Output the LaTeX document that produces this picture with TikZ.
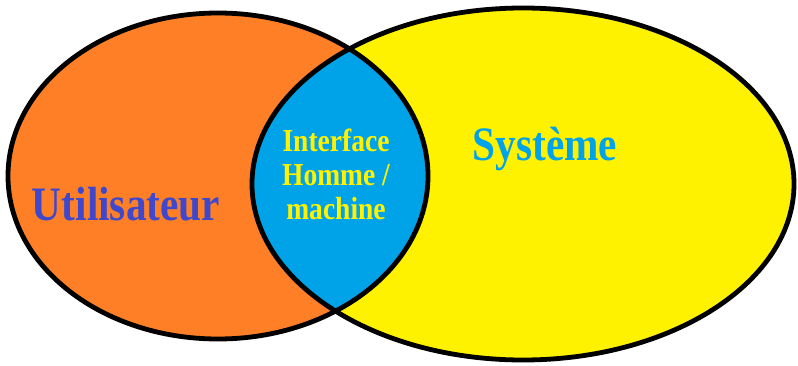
\documentclass[tikz,border=0pt]{standalone}
\usepackage{fontspec}
\newfontfamily\vennfont{Liberation Serif}[FakeStretch=0.86]
\definecolor{paintorange}{HTML}{FF7F27}
\definecolor{paintyellow}{HTML}{FFF200}
\definecolor{paintblue}{HTML}{00A2E8}
\definecolor{paintindigo}{HTML}{3F48CC}

\begin{document}
\begin{tikzpicture}[
            x=0.75pt, y=0.75pt,
            % Define styles
            outline/.style={draw=black, line width=3.6pt},
            bigtext/.style={font=\vennfont\bfseries\fontsize{36}{40}\selectfont, inner sep=0pt},
            smalltext/.style={font=\vennfont\bfseries\fontsize{24}{25.5}\selectfont, align=center, inner sep=0pt}
        ]

        \useasboundingbox[fill=white] (0,0) rectangle (798,365);

        % Two sets
        \def\userset{(218,189) ellipse [x radius=210, y radius=163]}
        \def\systemset{(523,181) ellipse [x radius=271, y radius=176]}

        \fill[paintorange] \userset;
        \fill[paintyellow] \systemset;

        % Overlap
        \begin{scope}
            \clip \userset;
            \fill[paintblue] \systemset;
        \end{scope}

        \draw[outline] \userset;
        \draw[outline] \systemset;

        % Labels
        \node[bigtext, text=paintindigo, anchor=base] (user) at (126,145) {Utilisateur};
        \node[bigtext, text=paintblue, anchor=base] (system) at (545,205) {Système};
        \node[smalltext, text=paintyellow] (hmi) at (336,191) {Interface\\Homme /\\machine};

\end{tikzpicture}
\end{document}
